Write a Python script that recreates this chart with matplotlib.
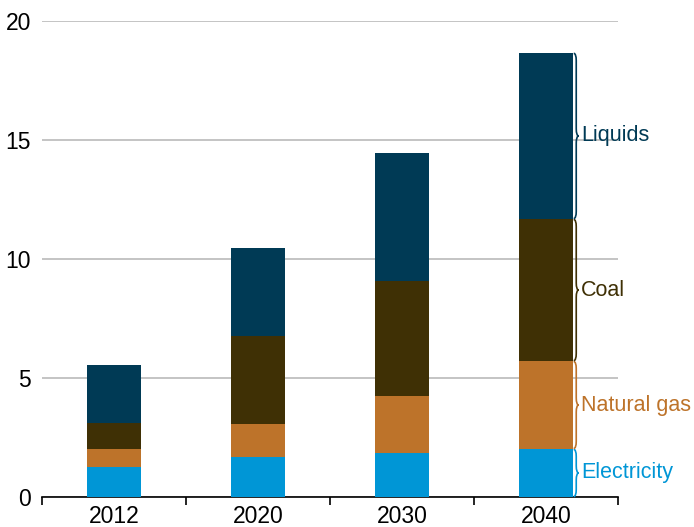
import matplotlib
matplotlib.use("Agg")
import matplotlib.pyplot as plt
from matplotlib.path import Path
from matplotlib.patches import PathPatch
import numpy as np

plt.rcParams['font.family'] = ['Liberation Sans', 'DejaVu Sans']

years = ["2012", "2020", "2030", "2040"]
electricity = [1.26, 1.68, 1.85, 2.02]
natural_gas = [0.76, 1.39, 2.39, 3.69]
coal = [1.08, 3.69, 4.84, 5.97]
liquids = [2.45, 3.70, 5.37, 6.98]

series = [
    ("Electricity", electricity, "#0096D6"),
    ("Natural gas", natural_gas, "#BD732A"),
    ("Coal", coal, "#3F3005"),
    ("Liquids", liquids, "#003A55"),
]

fig = plt.figure(figsize=(6.94, 5.27), dpi=100)
ax = fig.add_axes([42/694, 30/527, 576/694, 476/527])

x = np.arange(len(years))
width = 0.375
bottom = np.zeros(len(years))
for name, vals, color in series:
    ax.bar(x, vals, width, bottom=bottom, color=color, zorder=3)
    bottom = bottom + np.array(vals)

ax.set_xlim(-0.5, 3.5)
ax.set_ylim(0, 20)
ax.set_yticks([0, 5, 10, 15, 20])
ax.yaxis.grid(True, color="#B4B4B4", linewidth=1.1, zorder=0)
ax.set_axisbelow(True)
for s in ["left", "right", "top"]:
    ax.spines[s].set_visible(False)
ax.spines["bottom"].set_color("black")
ax.spines["bottom"].set_linewidth(1.2)
ax.tick_params(axis="y", length=0, labelsize=16.5, pad=8)
ax.set_xticks(x)
ax.set_xticklabels(years)
ax.tick_params(axis="x", which="major", length=0, labelsize=16.5, pad=6)
ax.set_xticks(np.arange(-0.5, 3.6, 1.0), minor=True)
ax.tick_params(axis="x", which="minor", length=6, width=1.2, color="black", direction="out")


def brace(ax, x0, y0, y1, w, r, color):
    xm = x0 + w * 0.5
    ym = (y0 + y1) / 2
    verts = [
        (x0, y0), (xm, y0), (xm, y0 + r),
        (xm, ym - r), (xm, ym), (x0 + w, ym),
        (xm, ym), (xm, ym + r),
        (xm, y1 - r), (xm, y1), (x0, y1),
    ]
    codes = [Path.MOVETO, Path.CURVE3, Path.CURVE3,
             Path.LINETO, Path.CURVE3, Path.CURVE3,
             Path.CURVE3, Path.CURVE3,
             Path.LINETO, Path.CURVE3, Path.CURVE3]
    p = PathPatch(Path(verts, codes), fill=False, edgecolor=color,
                  linewidth=1.2, clip_on=False, zorder=4)
    ax.add_patch(p)


last = len(years) - 1
bx = x[last] + width / 2 + 0.005
base = 0.0
for name, vals, color in series:
    top = base + vals[last]
    brace(ax, bx, base + 0.02, top - 0.02, 0.035, 0.3, color)
    ax.text(bx + 0.05, (base + top) / 2, name, color=color, fontsize=15.5,
            va="center", ha="left", clip_on=False)
    base = top

fig.savefig("out.png", dpi=100)
